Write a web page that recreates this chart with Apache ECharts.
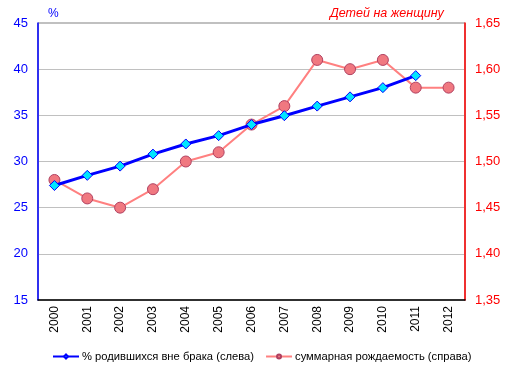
<!DOCTYPE html>
<html><head><meta charset="utf-8">
<script src="https://cdn.jsdelivr.net/npm/echarts@6/dist/echarts.min.js"></script>
<style>html,body{margin:0;padding:0;background:#fff}#c{width:513px;height:371px}</style>
</head><body><div id="c"></div>
<script>
const years = ['2000','2001','2002','2003','2004','2005','2006','2007','2008','2009','2010','2011','2012'];
const outOfWedlock = [27.4, 28.5, 29.5, 30.8, 31.9, 32.8, 34.0, 34.96, 36.0, 37.0, 38.0, 39.3, null];
const fertility = [1.48, 1.46, 1.45, 1.47, 1.50, 1.51, 1.54, 1.56, 1.61, 1.60, 1.61, 1.58, 1.58];
const seriesNames = ['% родившихся вне брака (слева)', 'суммарная рождаемость (справа)'];
const leftUnit = '%';
const rightUnit = 'Детей на женщину';

const chart = echarts.init(document.getElementById('c'));
const font = 'Liberation Sans, Arial, sans-serif';
chart.setOption({
  animation: false,
  textStyle: {fontFamily: font},
  grid: {left: 38, right: 48, top: 23, bottom: 71, show: true, borderColor: '#808080', borderWidth: 1},
  graphic: [
    {type: 'text', left: 48, top: 8, style: {text: leftUnit, fill: '#0000ff', font: '12px ' + font}},
    {type: 'text', left: 330, top: 7, style: {text: rightUnit, fill: '#ff0000', font: 'italic 12.5px ' + font}}
  ],
  legend: {
    top: 351, left: 52, padding: 0, itemWidth: 26, itemHeight: 5, itemGap: 11,
    textStyle: {fontSize: 11.2, color: '#000', fontFamily: font, padding: [0, 0, 0, -2]},
    data: seriesNames
  },
  xAxis: {
    type: 'category', data: years, boundaryGap: true,
    axisLine: {lineStyle: {color: '#000', width: 1.5}},
    axisTick: {show: false},
    axisLabel: {rotate: 90, color: '#000', fontSize: 12, margin: 6, fontFamily: font}
  },
  yAxis: [
    {type: 'value', min: 15, max: 45, interval: 5, position: 'left',
     axisLine: {show: true, lineStyle: {color: '#0000ff', width: 1.5}},
     axisTick: {show: false},
     splitLine: {lineStyle: {color: '#c0c0c0', width: 1}},
     axisLabel: {color: '#0000ff', fontSize: 13, margin: 10, fontFamily: font}},
    {type: 'value', min: 1.35, max: 1.65, interval: 0.05, position: 'right',
     axisLine: {show: true, lineStyle: {color: '#ff0000', width: 1.5}},
     axisTick: {show: false},
     splitLine: {show: false},
     axisLabel: {color: '#ff0000', fontSize: 13, margin: 10, fontFamily: font,
       formatter: v => v.toFixed(2).replace('.', ',')}}
  ],
  series: [
    {name: seriesNames[0], type: 'line', yAxisIndex: 0, data: outOfWedlock, z: 3,
     lineStyle: {color: '#0000ff', width: 3},
     symbol: 'diamond', symbolSize: 10,
     itemStyle: {color: '#00e5ff', borderColor: '#0000ff', borderWidth: 1}},
    {name: seriesNames[1], type: 'line', yAxisIndex: 1, data: fertility, z: 2,
     lineStyle: {color: '#ff8080', width: 2},
     symbol: 'circle', symbolSize: 11,
     itemStyle: {color: '#f07880', borderColor: '#b04060', borderWidth: 1}}
  ]
});
</script></body></html>
